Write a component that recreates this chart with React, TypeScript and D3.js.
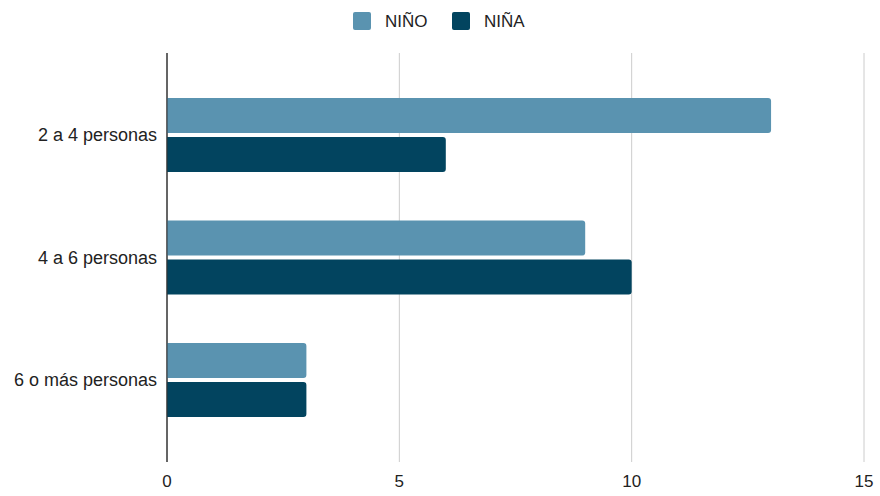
import React from "react";
import * as d3 from "d3";

const categories = ["2 a 4 personas", "4 a 6 personas", "6 o más personas"];
const seriesNames = ["NIÑO", "NIÑA"];
const ninoValues = [13, 9, 3];
const ninaValues = [6, 10, 3];
const xTicks = [0, 5, 10, 15];
const colors = ["#5a93b0", "#02445f"];

export default function App() {
  const W = 880, H = 496;
  const x = d3.scaleLinear().domain([0, 15]).range([167, 864]);
  const y = d3.scaleBand<string>().domain(categories).range([73.75, 441.25]).paddingInner(0.396).paddingOuter(0.198);
  const inner = d3.scaleBand<string>().domain(seriesNames).range([0, y.bandwidth()]).paddingInner(0.1);
  const series = [ninoValues, ninaValues];
  const font = "'Liberation Sans', Arial, sans-serif";
  const r = 3;
  const barPath = (x0: number, x1: number, y0: number, h: number) => {
    const w = x1 - x0;
    const rr = Math.min(r, w / 2, h / 2);
    return `M${x0},${y0} H${x1 - rr} Q${x1},${y0} ${x1},${y0 + rr} V${y0 + h - rr} Q${x1},${y0 + h} ${x1 - rr},${y0 + h} H${x0} Z`;
  };
  return (
    <svg width={W} height={H} style={{ position: "absolute", left: 0, top: 0, background: "#fff" }}>
      {xTicks.map((t) => (
        <g key={t}>
          <line x1={x(t)} x2={x(t)} y1={53} y2={462} stroke={t === 0 ? "#333" : "#cccccc"} strokeWidth={1} />
          <text x={x(t)} y={487} textAnchor="middle" fontFamily={font} fontSize={17} fill="#222">{t}</text>
        </g>
      ))}
      {categories.map((c, i) => (
        <g key={c}>
          {series.map((vals, s) => (
            <path
              key={s}
              d={barPath(x(0), x(vals[i]), (y(c) as number) + (inner(seriesNames[s]) as number), inner.bandwidth())}
              fill={colors[s]}
            />
          ))}
          <text x={157} y={(y(c) as number) + y.bandwidth() / 2} dy="0.35em" textAnchor="end" fontFamily={font} fontSize={18} fill="#222">{c}</text>
        </g>
      ))}
      <line x1={x(0)} x2={x(0)} y1={53} y2={462} stroke="#333" strokeWidth={1} />
      {seriesNames.map((n, s) => {
        const lx = [353, 452][s];
        return (
          <g key={n}>
            <rect x={lx} y={12} width={18} height={18} rx={2} fill={colors[s]} />
            <text x={lx + 32} y={21} dy="0.35em" fontFamily={font} fontSize={17} fill="#222">{n}</text>
          </g>
        );
      })}
    </svg>
  );
}
